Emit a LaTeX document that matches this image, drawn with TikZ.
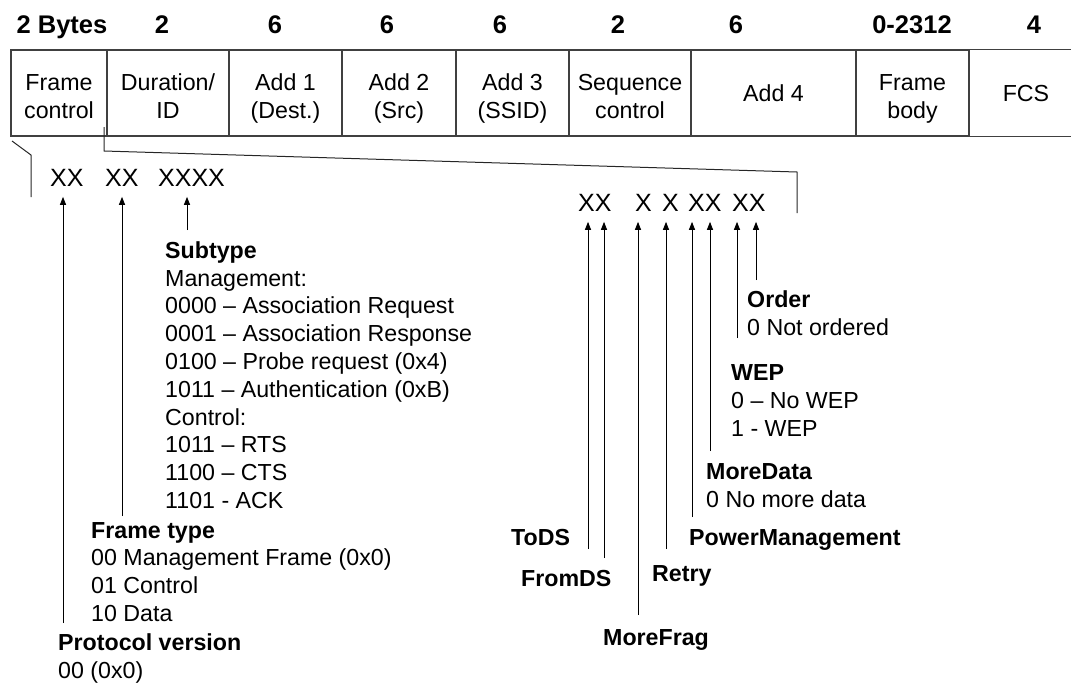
\documentclass[tikz,border=0pt]{standalone}
\usepackage{fontspec}
\setmainfont{Liberation Sans}
\usetikzlibrary{arrows.meta}
\newcommand\bodytext{\fontsize{23.2}{27.8}\selectfont}
\newcommand\headtext{\fontsize{25.5}{30}\selectfont\bfseries}
\newcommand\bittext{\fontsize{25}{30}\selectfont}
\begin{document}
\begin{tikzpicture}[x=1pt,y=-1pt,
  field/.style={draw=black!75, line width=1.2pt, minimum height=86pt, inner sep=0pt,
    align=center, font=\bodytext, text height=16.6pt, text depth=0pt},
  twoline/.style={text height=50.6pt},
  size/.style={font=\headtext, inner sep=0pt, anchor=base},
  bitgroup/.style={font=\bittext, inner xsep=0pt, inner ysep=10pt, anchor=west},
  note/.style={font=\bodytext, align=left, inner sep=0pt, anchor=base west},
  pointer/.style={line width=1pt, -{Triangle[length=8pt,width=6pt]}},
  bracket/.style={line width=1pt, black!85}]
\useasboundingbox (0,0) rectangle (1071,683);

% field sizes in bytes
\node[size] (s1) at (62,33) {2 Bytes};
\node[size] (s2) at (162,33) {2};
\node[size] (s3) at (275,33) {6};
\node[size] (s4) at (387,33) {6};
\node[size] (s5) at (500,33) {6};
\node[size] (s6) at (618,33) {2};
\node[size] (s7) at (736,33) {6};
\node[size] (s8) at (912,33) {0-2312};
\node[size] (s9) at (1034,33) {4};

% MAC frame fields
\node[field, twoline, minimum width=96pt]  (f1) at (59,93)    {Frame\\control};
\node[field, twoline, minimum width=122pt] (f2) at (168,93)   {Duration/\\ID};
\node[field, twoline, minimum width=113pt] (f3) at (285.5,93) {Add 1\\(Dest.)};
\node[field, twoline, minimum width=114pt] (f4) at (399,93)   {Add 2\\(Src)};
\node[field, twoline, minimum width=113pt] (f5) at (512.5,93) {Add 3\\(SSID)};
\node[field, twoline, minimum width=122pt] (f6) at (630,93)   {Sequence\\control};
\node[field, minimum width=165pt]          (f7) at (773.5,93) {Add 4};
\node[field, twoline, minimum width=113pt] (f8) at (912.5,93) {Frame\\body};
\node[field, draw=none, minimum width=114pt] (f9) at (1026,93) {FCS};
\draw[draw=black!75, line width=1.2pt] (f9.north west) -- (1071,0 |- f9.north west);
\draw[draw=black!75, line width=1.2pt] (f9.south west) -- (1071,0 |- f9.south west);

% expansion of the frame control field
\coordinate (lb0) at (12,141);
\coordinate (lb1) at (31,155);
\coordinate (lb2) at (31,197);
\draw[bracket] (lb0) -- (lb1) -- (lb2);
\coordinate (rb0) at (104,127);
\coordinate (rb1) at (104,151);
\coordinate (rb2) at (797,172);
\coordinate (rb3) at (797,213);
\draw[bracket] (rb0) -- (rb1) -- (rb2) -- (rb3);

% first byte bits
\node[bitgroup] (b1) at (50,178)  {XX};
\node[bitgroup] (b2) at (105,178) {XX};
\node[bitgroup] (b3) at (158,178) {XXXX};

% second byte bits
\node[bitgroup] (c1) at (578,203) {XX};
\node[bitgroup] (c2) at (635,203) {X};
\node[bitgroup] (c3) at (662,203) {X};
\node[bitgroup] (c4) at (688,203) {XX};
\node[bitgroup] (c5) at (732,203) {XX};

% descriptions (anchored at the baseline of their last line)
\node[note] (subtype) at (165,508.5) {\textbf{Subtype}\\Management:\\0000 – Association Request\\0001 – Association Response\\0100 – Probe request (0x4)\\1011 – Authentication (0xB)\\Control:\\1011 – RTS\\1100 – CTS\\1101 - ACK};
\node[note] (ftype) at (91,621.5) {\textbf{Frame type}\\00 Management Frame (0x0)\\01 Control\\10 Data};
\node[note] (proto) at (58,678.5) {\textbf{Protocol version}\\00 (0x0)};

\node[note] (order) at (747,335.3) {\textbf{Order}\\0 Not ordered};
\node[note] (wep) at (731,436.5) {\textbf{WEP}\\0 – No WEP\\1 - WEP};
\node[note] (moredata) at (706,507.3) {\textbf{MoreData}\\0 No more data};
\node[note] (power) at (689,545.3) {\textbf{PowerManagement}};
\node[note] (retry) at (652,581.3) {\textbf{Retry}};
\node[note] (morefrag) at (603,645.3) {\textbf{MoreFrag}};
\node[note] (tods) at (511,545.3) {\textbf{ToDS}};
\node[note] (fromds) at (521,586.3) {\textbf{FromDS}};

% pointer feet
\coordinate (pvfoot) at (63,623);
\coordinate (ftfoot) at (122,516);
\coordinate (stfoot) at (187,230);
\coordinate (todsfoot) at (588,549);
\coordinate (fromdsfoot) at (604,558);
\coordinate (fragfoot) at (638,615);
\coordinate (retryfoot) at (666,549);
\coordinate (powerfoot) at (692,517);
\coordinate (datafoot) at (710,451);
\coordinate (wepfoot) at (737,338);
\coordinate (orderfoot) at (756,280);

% pointers to the bits
\draw[pointer] (pvfoot) -- (pvfoot |- b1.south);
\draw[pointer] (ftfoot) -- (ftfoot |- b2.south);
\draw[pointer] (stfoot) -- (stfoot |- b3.south);
\draw[pointer] (todsfoot) -- (todsfoot |- c1.south);
\draw[pointer] (fromdsfoot) -- (fromdsfoot |- c1.south);
\draw[pointer] (fragfoot) -- (fragfoot |- c2.south);
\draw[pointer] (retryfoot) -- (retryfoot |- c3.south);
\draw[pointer] (powerfoot) -- (powerfoot |- c4.south);
\draw[pointer] (datafoot) -- (datafoot |- c4.south);
\draw[pointer] (wepfoot) -- (wepfoot |- c5.south);
\draw[pointer] (orderfoot) -- (orderfoot |- c5.south);
\end{tikzpicture}
\end{document}
